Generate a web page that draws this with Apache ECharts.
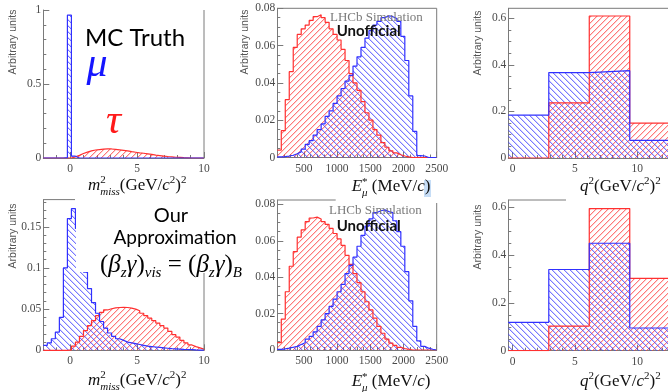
<!DOCTYPE html>
<html><head><meta charset="utf-8">
<script src="https://cdn.jsdelivr.net/npm/echarts@6.0.0/dist/echarts.min.js"></script>
<style>html,body{margin:0;padding:0;background:#fff;}#chart{width:668px;height:392px;}</style>
</head><body><div id="chart"></div>
<script>
// ================= DATA =================
// m^2_miss histograms: 40 bins of 0.3 from -2 to 10
const mmissBinStart = -2, mmissBinWidth = 0.3;
const mmissRange = [-2, 10];
const mmissTicks = [0, 5, 10];
const mmissMinorTicks = [-1, 1, 2, 3, 4, 6, 7, 8, 9];
const truthMuMmiss = [0,0,0,0,0,0.003,0.965,0.012,0,0, 0,0,0,0,0,0,0,0,0,0, 0,0,0,0,0,0,0,0,0,0, 0,0,0,0,0,0,0,0,0,0];
const truthTauMmiss = [0,0,0,0,0,0,0,0.008,0.018,0.030, 0.040,0.048,0.054,0.057,0.060,0.061,0.061,0.058,0.055,0.052, 0.048,0.043,0.039,0.035,0.032,0.028,0.024,0.019,0.016,0.013, 0.010,0.008,0.005,0.004,0.002,0.001,0,0,0,0];
const approxMuMmiss = [0.006,0.009,0.014,0.022,0.040,0.100,0.160,0.172,0.148,0.125, 0.095,0.075,0.058,0.045,0.035,0.027,0.021,0.017,0.014,0.012, 0.010,0.009,0.008,0.007,0.006,0.005,0.0045,0.004,0.0035,0.003, 0.0025,0.002,0.0018,0.0015,0.0012,0.001,0.0008,0.0005,0.0003,0.0001];
const approxTauMmiss = [0,0,0,0,0,0,0.0005,0.005,0.010,0.017, 0.024,0.030,0.036,0.042,0.046,0.049,0.0505,0.0515,0.052,0.0522, 0.052,0.0512,0.050,0.048,0.045,0.042,0.039,0.036,0.033,0.030, 0.027,0.023,0.019,0.016,0.012,0.009,0.0065,0.0045,0.003,0.0015];

// E*_mu histograms: 40 bins of 60 MeV from 100 to 2500
const eStarBinStart = 100, eStarBinWidth = 60;
const eStarRange = [100, 2500];
const eStarTicks = [500, 1000, 1500, 2000, 2500];
const eStarMinorTicks = [200,300,400,600,700,800,900,1100,1200,1300,1400,1600,1700,1800,1900,2100,2200,2300,2400];
const truthTauEStar = [0.004,0.0144,0.031,0.046,0.059,0.066,0.069,0.071,0.0735,0.0755, 0.0765,0.075,0.0725,0.069,0.066,0.063,0.058,0.052,0.045,0.040, 0.036,0.030,0.024,0.020,0.015,0.012,0.008,0.0055,0.0036,0.0025, 0.0015,0.0008,0.0003,0,0,0,0,0,0,0];
const truthMuEStar = [0.0003,0.0005,0.0008,0.0012,0.002,0.003,0.0045,0.007,0.009,0.012, 0.015,0.018,0.022,0.025,0.029,0.033,0.037,0.041,0.044,0.049, 0.054,0.059,0.064,0.068,0.071,0.073,0.075,0.076,0.0755,0.0745, 0.073,0.065,0.052,0.033,0.014,0.001,0.0008,0,0,0];
const approxTauEStar = [0.004,0.017,0.032,0.046,0.054,0.062,0.066,0.0705,0.0725,0.073, 0.072,0.0705,0.069,0.0668,0.064,0.061,0.0575,0.052,0.047,0.042, 0.037,0.032,0.0265,0.022,0.0175,0.013,0.0092,0.006,0.0038,0.0025, 0.0014,0.0008,0.0004,0,0,0,0,0,0,0];
const approxMuEStar = [0.0003,0.0006,0.001,0.0015,0.002,0.003,0.004,0.006,0.0075,0.010, 0.013,0.0165,0.020,0.024,0.028,0.032,0.036,0.042,0.0465,0.051, 0.057,0.063,0.068,0.072,0.0755,0.0765,0.077,0.076,0.0755,0.071, 0.065,0.057,0.043,0.027,0.013,0.005,0.002,0.001,0.0004,0];

// q^2 histograms: 4 bins
const q2BinEdges = [-0.35, 2.9, 6.15, 9.4, 12.65];
const q2Range = [-0.35, 13.65];
const q2Ticks = [0, 5, 10];
const q2MinorTicks = [1,2,3,4,6,7,8,9,11,12,13];
const truthMuQ2 = [0.184, 0.367, 0.375, 0.076];
const truthTauQ2 = [0, 0.237, 0.610, 0.150];
const approxMuQ2 = [0.119, 0.340, 0.450, 0.095];
const approxTauQ2 = [0, 0.103, 0.595, 0.303];

// y-axis ticks
const yTicksTruthMmiss = [0, 0.5, 1];
const yMinorTruthMmiss = [0.1,0.2,0.3,0.4,0.6,0.7,0.8,0.9];
const yTicksApproxMmiss = [0, 0.05, 0.1, 0.15];
const yMinorApproxMmiss = [0.01,0.02,0.03,0.04,0.06,0.07,0.08,0.09,0.11,0.12,0.13,0.14,0.16,0.17,0.18];
const yTicksEStar = [0, 0.02, 0.04, 0.06, 0.08];
const yMinorEStar = [0.005,0.01,0.015,0.025,0.03,0.035,0.045,0.05,0.055,0.065,0.07,0.075];
const yTicksQ2 = [0, 0.2, 0.4, 0.6];
const yMinorQ2 = [0.05,0.1,0.15,0.25,0.3,0.35,0.45,0.5,0.55];

// ================= LAYOUT / STYLE =================
const AX = '#7a7a7a', LBL = '#4a4a4a', SERIF = 'Liberation Serif';
const RED = '#ff3030', BLUE = '#3030ff';
const panels = [
  {l:43.3, r:204,   t:10,    b:158,   ymax:1.0,   xr:mmissRange, xt:mmissTicks, xm:mmissMinorTicks, yt:yTicksTruthMmiss, ym:yMinorTruthMmiss},
  {l:277.3, r:436.7, t:8.3,  b:157.5, ymax:0.08,  xr:eStarRange, xt:eStarTicks, xm:eStarMinorTicks, yt:yTicksEStar, ym:yMinorEStar},
  {l:508.3, r:682.7, t:8.3,  b:158,   ymax:0.643, xr:q2Range, xt:q2Ticks, xm:q2MinorTicks, yt:yTicksQ2, ym:yMinorQ2},
  {l:43.3, r:204,   t:199.6, b:350.3, ymax:0.183, xr:mmissRange, xt:mmissTicks, xm:mmissMinorTicks, yt:yTicksApproxMmiss, ym:yMinorApproxMmiss},
  {l:277.3, r:436.7, t:200,  b:350,   ymax:0.0824, xr:eStarRange, xt:eStarTicks, xm:eStarMinorTicks, yt:yTicksEStar, ym:yMinorEStar},
  {l:508.3, r:682.7, t:200,  b:350.7, ymax:0.631, xr:q2Range, xt:q2Ticks, xm:q2MinorTicks, yt:yTicksQ2, ym:yMinorQ2}
];

function edgesFrom(start, width, n) { const e = []; for (let i = 0; i <= n; i++) e.push(+(start + i * width).toFixed(6)); return e; }
function stepData(edges, vals) {
  const d = vals.map((v, i) => [edges[i], v]);
  d.push([edges[vals.length], vals[vals.length - 1]]);
  d.push([edges[vals.length], 0]);
  return d;
}
// pixel-exact hatch tile: dir>0 -> '/', dir<0 -> '\'
function hatchCanvas(rgb, dir, s) {
  const c = document.createElement('canvas'); c.width = s; c.height = s;
  const g = c.getContext('2d');
  const img = g.createImageData(s, s);
  for (let y = 0; y < s; y++) {
    for (let x = 0; x < s; x++) {
      const m = dir > 0 ? (x + y) % s : ((x - y) % s + s) % s;
      let a = 0;
      if (m === 0) a = 175; else if (m === 1) a = 60;
      const o = (y * s + x) * 4;
      img.data[o] = rgb[0]; img.data[o + 1] = rgb[1]; img.data[o + 2] = rgb[2]; img.data[o + 3] = a;
    }
  }
  g.putImageData(img, 0, 0);
  return c;
}
const redHatchCanvas = hatchCanvas([255, 60, 60], 1, 6);
const blueHatchCanvas = hatchCanvas([60, 60, 255], -1, 6);

const mmissEdges = edgesFrom(mmissBinStart, mmissBinWidth, 40);
const eStarEdges = edgesFrom(eStarBinStart, eStarBinWidth, 40);

const grids = [], xAxes = [], yAxes = [], series = [];
const plain = v => String(+v.toFixed(6));
panels.forEach((p, i) => {
  grids.push({left: p.l, top: p.t, width: p.r - p.l, height: p.b - p.t, containLabel: false, outerBoundsMode: 'none', show: false});
  xAxes.push({type: 'value', gridIndex: i, position: 'bottom', min: p.xr[0], max: p.xr[1],
    axisLine: {show: true, onZero: false, lineStyle: {color: AX, width: 1}},
    axisTick: {show: true, inside: true, length: 6, customValues: p.xt, lineStyle: {color: AX}},
    axisLabel: {show: true, customValues: p.xt, formatter: plain, margin: 5, color: LBL, fontFamily: SERIF, fontSize: 11.5},
    splitLine: {show: false}});
  xAxes.push({type: 'value', gridIndex: i, position: 'bottom', min: p.xr[0], max: p.xr[1],
    axisLine: {show: false, onZero: false},
    axisTick: {show: true, inside: true, length: 3, customValues: p.xm, lineStyle: {color: AX}},
    axisLabel: {show: false}, splitLine: {show: false}});
  yAxes.push({type: 'value', gridIndex: i, position: 'left', min: 0, max: p.ymax,
    axisLine: {show: true, onZero: false, lineStyle: {color: AX, width: 1}},
    axisTick: {show: true, inside: true, length: 6, customValues: p.yt, lineStyle: {color: AX}},
    axisLabel: {show: true, customValues: p.yt, formatter: plain, margin: 2, color: LBL, fontFamily: SERIF, fontSize: 11.5},
    splitLine: {show: false}});
  yAxes.push({type: 'value', gridIndex: i, position: 'left', min: 0, max: p.ymax,
    axisLine: {show: false, onZero: false},
    axisTick: {show: true, inside: true, length: 3, customValues: p.ym, lineStyle: {color: AX}},
    axisLabel: {show: false}, splitLine: {show: false}});
});
function hist(panelIdx, edges, vals, color, hatchImg) {
  series.push({type: 'line', xAxisIndex: panelIdx * 2, yAxisIndex: panelIdx * 2, step: 'end',
    data: stepData(edges, vals), symbol: 'none', silent: true, animation: false,
    lineStyle: {color: color, width: 1.2}, itemStyle: {color: color},
    areaStyle: {color: {image: hatchImg, repeat: 'repeat'}, opacity: 1}});
}
hist(0, mmissEdges, truthTauMmiss, RED, redHatchCanvas);
hist(0, mmissEdges, truthMuMmiss, BLUE, blueHatchCanvas);
hist(1, eStarEdges, truthTauEStar, RED, redHatchCanvas);
hist(1, eStarEdges, truthMuEStar, BLUE, blueHatchCanvas);
hist(2, q2BinEdges, truthTauQ2, RED, redHatchCanvas);
hist(2, q2BinEdges, truthMuQ2, BLUE, blueHatchCanvas);
hist(3, mmissEdges, approxTauMmiss, RED, redHatchCanvas);
hist(3, mmissEdges, approxMuMmiss, BLUE, blueHatchCanvas);
hist(4, eStarEdges, approxTauEStar, RED, redHatchCanvas);
hist(4, eStarEdges, approxMuEStar, BLUE, blueHatchCanvas);
hist(5, q2BinEdges, approxTauQ2, RED, redHatchCanvas);
hist(5, q2BinEdges, approxMuQ2, BLUE, blueHatchCanvas);

// ---------- graphic: frames & text ----------
const G = [];
function line(x1, y1, x2, y2, z) { G.push({type: 'line', z: z || 40, shape: {x1, y1, x2, y2}, style: {stroke: AX, lineWidth: 1}}); }
line(204, 10, 204, 158);
line(277.3, 8.3, 436.7, 8.3); line(436.7, 8.3, 436.7, 157.5);
line(508.3, 8.3, 668, 8.3);
line(43.3, 199.6, 75, 199.6); line(204, 273, 204, 350.3);
line(277.3, 200, 335.7, 200); line(436.7, 203, 436.7, 350);
line(508.3, 200, 566, 200);

const mctx = document.createElement('canvas').getContext('2d');
function fontOf(p) { return (p.it ? 'italic ' : '') + (p.bold ? 'bold ' : '') + p.sz + 'px "' + (p.ff || SERIF) + '"'; }
function mathText(x0, base, parts, color, anchor, z) {
  let lastStart = 0, lastEnd = 0; const placed = [];
  parts.forEach(p => {
    mctx.font = fontOf(p); const w = mctx.measureText(p.t).width;
    let s;
    if (p.same) { s = lastStart; lastEnd = Math.max(lastEnd, s + w); }
    else { s = lastEnd; lastStart = s; lastEnd = s + w; }
    placed.push({p, s});
  });
  const total = lastEnd;
  const off = anchor === 'center' ? x0 - total / 2 : x0;
  placed.forEach(({p, s}) => {
    G.push({type: 'text', z: z || 60, x: off + s, y: base + (p.dy || 0) - 0.3 * p.sz,
      style: {text: p.t, fontSize: p.sz, fontFamily: p.ff || SERIF, fontStyle: p.it ? 'italic' : 'normal',
        fontWeight: p.bold ? 'bold' : 'normal', fill: p.c || color, align: 'left', verticalAlign: 'middle'}});
  });
}
const mmissTitle = [{t:'m',sz:17,it:true},{t:'2',sz:11,dy:-7.5},{t:'miss',sz:11,it:true,dy:4,same:true},{t:'(GeV/',sz:17},{t:'c',sz:17,it:true},{t:'2',sz:11,dy:-7.5},{t:')',sz:17},{t:'2',sz:11,dy:-7.5}];
const eStarTitle = [{t:'E',sz:17,it:true},{t:'*',sz:11,dy:-7},{t:'μ',sz:11,it:true,dy:4,same:true},{t:' (MeV/',sz:17},{t:'c',sz:17,it:true},{t:')',sz:17}];
const q2Title = [{t:'q',sz:17,it:true},{t:'2',sz:11,dy:-7.5},{t:'(GeV/',sz:17},{t:'c',sz:17,it:true},{t:'2',sz:11,dy:-7.5},{t:')',sz:17},{t:'2',sz:11,dy:-7.5}];

G.push({type: 'rect', z: 50, shape: {x: 424, y: 180, width: 7, height: 17}, style: {fill: '#c6ddf6'}});

mathText(88, 191, mmissTitle, '#111');
mathText(351.7, 192, eStarTitle, '#111');
mathText(580, 192, q2Title, '#111');
mathText(88, 386, mmissTitle, '#111');
mathText(351.7, 387, eStarTitle, '#111');
mathText(580, 387, q2Title, '#111');

[[13, 42], [245, 42], [478, 43], [13, 236], [478, 237]].forEach(([x, y]) => {
  G.push({type: 'text', z: 60, x, y, rotation: Math.PI / 2,
    style: {text: 'Arbitrary units', fontSize: 10.5, fontFamily: 'Liberation Sans', fill: '#555', align: 'center', verticalAlign: 'middle'}});
});

[[330, 21, 336.7, 36], [329, 214, 336.7, 231]].forEach(([x1, b1, x2, b2]) => {
  mathText(x1, b1, [{t:'LHCb Simulation', sz:13}], '#7a7a7a');
  mathText(x2, b2, [{t:'Unofficial', sz:15, ff:'Lato', bold:true}], '#111');
});

mathText(85, 45.5, [{t:'MC Truth', sz:24, ff:'Lato'}], '#000');
mathText(86.5, 78, [{t:'μ', sz:42, it:true}], '#1515ff');
mathText(106, 135, [{t:'τ', sz:42, it:true}], '#ff1a1a');

G.push({type: 'rect', z: 55, shape: {x: 76, y: 197, width: 178, height: 75}, style: {fill: '#fff'}});
mathText(171, 221.7, [{t:'Our', sz:20, ff:'Lato'}], '#000', 'center', 70);
mathText(175, 244, [{t:'Approximation', sz:19, ff:'Lato'}], '#000', 'center', 70);
mathText(100, 273, [
  {t:'(',sz:25},{t:'β',sz:25,it:true},{t:'z',sz:15,it:true,dy:5},{t:'γ',sz:25,it:true},{t:')',sz:25},{t:'vis',sz:15,it:true,dy:5},
  {t:' = ',sz:25},{t:'(',sz:25},{t:'β',sz:25,it:true},{t:'z',sz:15,it:true,dy:5},{t:'γ',sz:25,it:true},{t:')',sz:25},{t:'B',sz:15,it:true,dy:5}
], '#000', 'left', 70);

const chart = echarts.init(document.getElementById('chart'), null, {renderer: 'canvas'});
chart.setOption({
  animation: false,
  backgroundColor: '#fff',
  grid: grids, xAxis: xAxes, yAxis: yAxes, series: series,
  graphic: {elements: G}
});
</script></body></html>
